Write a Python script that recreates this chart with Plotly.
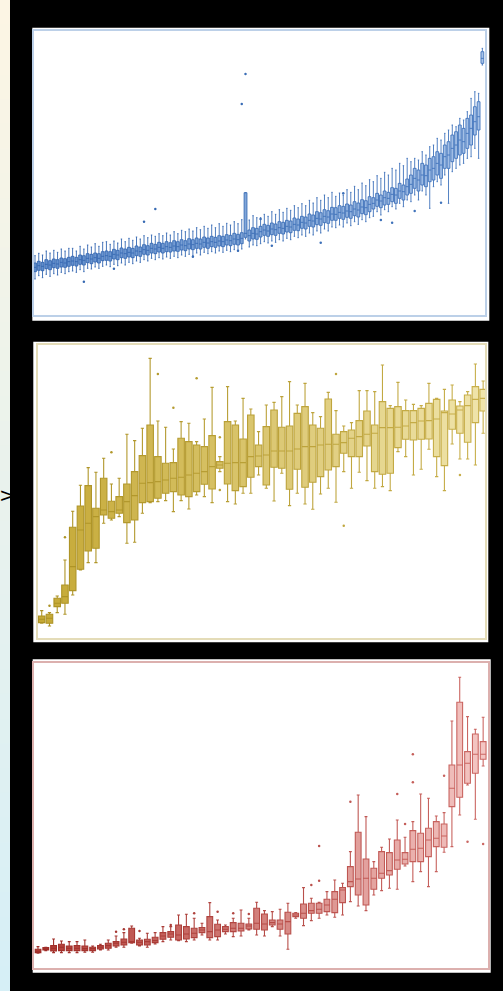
import plotly.graph_objects as go

# ---------------- Panel 1 (blue) : box statistics per category ----------------
p1_med = [143,148,146,152,150,155,153,158,156,160,
          162,160,166,164,170,168,172,170,176,178,
          176,182,180,186,184,188,186,192,190,196,
          194,200,198,203,200,205,203,207,205,210,
          208,213,211,215,213,218,216,220,218,222,
          220,225,223,228,226,230,245,238,245,243,
          250,255,252,258,256,262,260,266,264,272,
          270,278,276,284,282,290,288,296,294,303,
          302,308,306,312,310,318,315,324,322,332,
          335,345,342,352,350,362,360,372,370,385,
          392,410,405,420,418,435,440,455,450,475,
          480,500,510,525,520,545,560,580,595,770]
p1_q1 = [130,134,133,139,136,142,140,144,143,146,
         149,147,152,150,157,154,159,156,163,164,
         162,168,166,172,170,174,172,178,176,182,
         180,186,184,189,186,190,189,192,191,195,
         193,198,196,200,198,203,200,205,203,207,
         205,210,208,212,210,214,233,222,228,227,
         234,239,236,241,239,245,243,249,247,254,
         253,260,258,266,264,271,269,277,275,284,
         284,290,287,293,290,298,294,304,301,310,
         318,326,322,330,332,340,335,350,345,360,
         365,380,372,390,385,400,405,420,410,440,
         440,460,470,480,485,500,510,540,555,755]
p1_q3 = [156,161,158,166,163,168,166,171,169,173,
         176,173,180,178,184,182,186,184,190,192,
         190,197,194,201,198,203,200,207,204,211,
         208,215,212,218,215,220,217,223,220,226,
         223,229,226,231,228,234,231,236,233,238,
         236,241,239,245,242,247,367,255,262,260,
         266,272,269,276,273,280,278,284,282,291,
         288,296,294,303,300,310,307,316,313,323,
         322,328,326,333,330,340,336,346,343,355,
         352,365,360,372,368,382,380,395,390,408,
         420,440,435,455,450,470,475,490,485,510,
         520,540,550,570,560,590,600,625,640,790]
p1_lo = [108,118,112,122,116,124,120,128,124,130,
         132,128,136,130,140,138,144,140,146,150,
         145,152,148,156,150,158,154,162,158,166,
         162,170,166,172,168,174,170,176,172,180,
         176,182,178,186,180,188,184,190,186,192,
         188,194,190,196,192,198,228,204,210,208,
         214,220,216,222,218,226,222,230,226,236,
         232,240,236,246,240,252,246,258,252,264,
         262,270,264,276,268,280,272,286,280,292,
         296,310,300,316,310,325,318,335,325,345,
         340,360,345,372,360,320,385,400,390,420,
         335,430,440,450,455,470,475,500,470,750]
p1_hi = [178,185,180,192,186,194,188,198,192,200,
         200,192,206,198,210,204,214,206,218,220,
         212,222,216,228,220,230,224,234,228,238,
         232,240,236,244,238,246,240,250,244,254,
         250,258,252,262,256,266,260,270,262,274,
         266,275,270,280,274,286,367,285,298,292,
         292,302,296,310,302,316,308,320,314,328,
         322,334,328,344,336,352,344,360,352,368,
         356,366,360,376,368,386,376,396,388,406,
         400,418,410,428,420,440,435,455,448,470,
         460,470,465,490,480,505,510,530,525,545,
         555,570,565,590,585,610,650,670,665,800]
p1_out_idx = [13,21,29,32,42,54,55,56,60,63,76,82,92,95,101,108]
p1_out_val = [100,139,280,318,175,193,633,723,288,208,217,365,285,277,312,337]

# ---------------- Panel 2 (gold) ----------------
p2_lo  = [45,37,77,72,130,205,227,227,345,355,365,285,288,375,407,410,413,380,413,388,
          430,425,407,500,410,403,435,435,490,450,412,495,398,435,403,387,433,450,408,500,
          450,498,473,450,455,443,560,545,490,507,567,485,443,583,538,538,520,615]
p2_q1  = [47,45,95,105,143,207,262,270,370,360,375,347,355,407,410,420,435,440,430,425,
          440,462,448,510,463,443,455,483,515,460,513,510,447,507,453,468,485,505,515,555,
          545,545,577,500,492,495,572,597,595,597,598,545,518,627,615,588,647,682]
p2_med = [57,60,105,125,215,325,345,365,385,380,385,410,428,465,467,470,475,480,483,490,
          495,500,515,520,525,527,527,545,547,550,562,562,562,568,575,575,580,582,582,587,
          600,605,612,615,632,632,633,637,647,652,653,658,677,673,685,698,717,720]
p2_q3  = [67,72,120,160,333,397,458,390,480,411,425,463,500,548,640,545,525,527,600,590,
          580,575,608,530,650,640,598,670,580,635,685,633,637,675,695,640,630,718,612,620,
          625,653,682,640,710,690,695,683,683,690,705,717,682,715,697,730,755,747]
p2_hi  = [83,77,127,235,381,459,512,498,540,463,480,612,593,630,840,652,633,568,650,645,
          590,658,753,545,755,652,720,688,620,700,708,725,770,700,765,677,665,738,683,637,
          647,743,743,740,820,698,768,715,702,698,765,720,747,760,710,740,823,772]
p2_out_idx = [1,3,9,15,17,20,23,23,38,39,54]
p2_out_val = [98,303,558,793,692,780,603,445,793,338,490]

# ---------------- Panel 3 (red) ----------------
p3_lo  = [45,53,47,47,47,47,48,48,55,55,63,63,75,67,63,73,80,85,83,80,
          85,100,85,85,103,95,97,115,100,97,125,97,57,150,128,143,150,160,153,160,
          200,187,173,220,233,240,237,307,260,290,245,290,348,365,460,550,447,607]
p3_q1  = [47,55,52,53,53,53,53,53,58,60,67,70,77,70,70,77,87,93,85,88,
          92,107,92,95,110,110,112,118,117,115,130,117,103,155,150,165,165,170,167,197,
          245,220,190,237,270,280,297,313,320,320,335,365,363,485,513,555,585,627]
p3_med = [51,58,60,63,60,60,59,59,63,68,75,78,80,78,80,83,97,103,100,103,
          105,115,110,115,117,120,120,127,135,133,137,133,140,160,165,173,177,190,207,235,
          260,268,270,270,285,293,325,327,357,360,385,390,397,540,610,615,642,642]
p3_q3  = [57,62,68,72,67,68,67,63,68,75,80,88,120,85,87,93,107,110,130,125,
          120,122,155,132,125,137,135,133,180,163,145,145,168,165,193,195,195,207,230,242,
          305,408,328,300,350,347,385,347,413,405,420,440,433,610,798,650,703,680]
p3_hi  = [65,63,88,82,80,80,85,67,72,85,97,107,127,90,105,107,125,125,160,162,
          150,135,197,145,130,150,175,150,198,173,170,177,195,167,242,210,198,230,265,255,
          350,520,455,320,363,388,445,393,440,523,510,457,467,742,873,755,717,753]
p3_out_idx = [10,11,13,17,20,23,25,27,35,36,36,40,46,47,48,48,52,55,57]
p3_out_val = [110,117,112,130,165,170,165,163,250,263,367,500,523,433,558,642,578,380,373]

W, H = 503, 991


def px(x):
    return x / W


def py(y):
    return 1 - y / H


def mix(c1, c2, t):
    a = [int(c1[i:i + 2], 16) for i in (1, 3, 5)]
    b = [int(c2[i:i + 2], 16) for i in (1, 3, 5)]
    return "#%02x%02x%02x" % tuple(round(a[k] + (b[k] - a[k]) * t) for k in range(3))


fig = go.Figure()


def add_panel(lo, q1, med, q3, hi, oi, ov, ax, width, fill0, fill1, line0, line1, lw, msize):
    N = len(med)
    for i in range(N):
        t = i / (N - 1)
        lc = mix(line0, line1, t)
        fig.add_trace(go.Box(
            x=[i], q1=[q1[i]], median=[med[i]], q3=[q3[i]],
            lowerfence=[lo[i]], upperfence=[hi[i]],
            width=width, whiskerwidth=0.5, boxpoints=False,
            fillcolor=mix(fill0, fill1, t), line=dict(color=lc, width=lw),
            xaxis="x" + ax, yaxis="y" + ax, showlegend=False, hoverinfo="skip"))
    cols = [mix(line0, line1, k / (N - 1)) for k in oi]
    fig.add_trace(go.Scatter(x=oi, y=ov, mode="markers",
                             marker=dict(size=msize, color=cols),
                             xaxis="x" + ax, yaxis="y" + ax,
                             showlegend=False, hoverinfo="skip"))


add_panel(p1_lo, p1_q1, p1_med, p1_q3, p1_hi, p1_out_idx, p1_out_val, "",
          0.75, "#5f8dcc", "#a7c2e7", "#3366b0", "#4275bd", 0.9, 2.5)
add_panel(p2_lo, p2_q1, p2_med, p2_q3, p2_hi, p2_out_idx, p2_out_val, "2",
          0.84, "#c5a936", "#f0e4ab", "#ac9224", "#c9b04c", 1.1, 2.5)
add_panel(p3_lo, p3_q1, p3_med, p3_q3, p3_hi, p3_out_idx, p3_out_val, "3",
          0.74, "#b23b35", "#f4c6c3", "#9e2c27", "#cc6864", 1.1, 2.5)


def axis(dom, rng, lc, anchor):
    return dict(domain=dom, range=rng, showgrid=False, zeroline=False,
                showticklabels=False, ticks="", showline=True, mirror=True,
                linecolor=lc, linewidth=1.5, fixedrange=True, anchor=anchor)


shapes = []
# left gradient strip
nb = 40
for k in range(nb):
    y0 = H * k / nb
    y1 = H * (k + 1) / nb + 2
    shapes.append(dict(type="rect", xref="paper", yref="paper",
                       x0=0, x1=px(10), y0=py(min(y1, H)), y1=py(y0),
                       fillcolor=mix("#fcf5e4", "#d6eff6", k / (nb - 1)),
                       line=dict(width=0), layer="below"))
# white panels
for (x0, x1, y0, y1) in [(32.3, 489.3, 27.7, 320.7), (33.3, 488.3, 341.7, 642.3), (32.7, 490.7, 659.3, 972.7)]:
    shapes.append(dict(type="rect", xref="paper", yref="paper",
                       x0=px(x0), x1=px(x1), y0=py(y1), y1=py(y0),
                       fillcolor="white", line=dict(width=0), layer="below"))

fig.update_layout(
    width=W, height=H, margin=dict(l=0, r=0, t=0, b=0, pad=0), autosize=False,
    paper_bgcolor="black", plot_bgcolor="white", boxmode="overlay",
    showlegend=False, shapes=shapes,
    xaxis=axis([px(33.5), px(485)], [-0.4, 119.7], "#bcd0e8", "y"),
    yaxis=axis([py(315), py(30.7)], [0, 853], "#bcd0e8", "x"),
    xaxis2=axis([px(37.7), px(485)], [-0.52, 57.24], "#e4dcb8", "y2"),
    yaxis2=axis([py(638.3), py(345)], [0, 880], "#e4dcb8", "x2"),
    xaxis3=axis([px(34.3), px(488.3)], [-0.47, 57.66], "#dcb0ae", "y3"),
    yaxis3=axis([py(968.3), py(663.3)], [0, 915], "#dcb0ae", "x3"),
    annotations=[dict(text=">", xref="paper", yref="paper", x=0, y=py(495),
                      xanchor="left", yanchor="middle", xshift=-3, showarrow=False,
                      font=dict(size=20, color="black", family="DejaVu Sans"))],
)

fig.write_html("out.html", config={"displayModeBar": False},
               post_script="document.body.style.margin='0';document.body.style.overflow='hidden';")
